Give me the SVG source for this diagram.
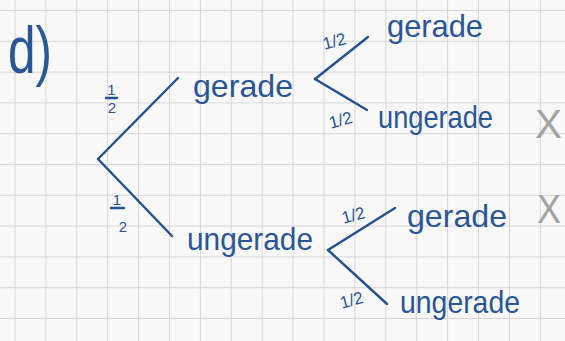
<svg xmlns="http://www.w3.org/2000/svg" width="565" height="341" viewBox="0 0 565 341">
  <defs>
    <pattern id="grid" x="14.5" y="10" width="30.9" height="30.8" patternUnits="userSpaceOnUse">
      <path d="M0 0 V30.8 M0 0 H30.9" fill="none" stroke="#d6d6d6" stroke-width="2"/>
    </pattern>
  </defs>
  <style>
    .ink { fill: #2a5597; font-family: "Liberation Sans", Arial, sans-serif; }
    .word { font-size: 32px; }
    .frac { font-size: 15px; }
    .frac2 { font-size: 17px; }
    .edge { stroke: #24508f; stroke-width: 2.4; stroke-linecap: round; fill: none; }
    .cross { fill: #a3a3a3; font-family: "Liberation Sans", Arial, sans-serif; font-size: 40px; font-weight: 300; }
  </style>
  <rect width="565" height="341" fill="#f8f8f8"/>
  <rect width="565" height="341" fill="url(#grid)"/>

  <g id="label-d">
    <text class="ink" x="8" y="73" font-size="66" textLength="44" lengthAdjust="spacingAndGlyphs">d)</text>
  </g>

  <g id="connectors">
    <line class="edge" x1="98" y1="159" x2="178" y2="78"/>
    <line class="edge" x1="98" y1="159" x2="172" y2="236"/>
    <line class="edge" x1="315" y1="79" x2="368" y2="37"/>
    <line class="edge" x1="315" y1="79" x2="367" y2="110"/>
    <line class="edge" x1="328" y1="250" x2="395" y2="208"/>
    <line class="edge" x1="328" y1="250" x2="387" y2="304"/>
    <!-- fraction bars -->
    <line class="edge" x1="106" y1="98" x2="117" y2="98" stroke-width="1.5"/>
    <line class="edge" x1="111" y1="208" x2="124" y2="208" stroke-width="1.5"/>
  </g>

  <g id="edge-labels">
    <text class="ink frac" x="111.5" y="95" text-anchor="middle">1</text>
    <text class="ink frac" x="112" y="113" text-anchor="middle">2</text>
    <text class="ink frac" x="117" y="205" text-anchor="middle">1</text>
    <text class="ink frac" x="123" y="232" text-anchor="middle">2</text>
    <text class="ink frac2" x="334" y="47" text-anchor="middle" transform="rotate(-15 334 40)">1/2</text>
    <text class="ink frac2" x="340" y="126" text-anchor="middle" transform="rotate(-15 340 118)">1/2</text>
    <text class="ink frac2" x="353" y="221" text-anchor="middle" transform="rotate(-15 353 214)">1/2</text>
    <text class="ink frac2" x="351" y="306" text-anchor="middle" transform="rotate(-15 351 298)">1/2</text>
  </g>

  <g id="node-gerade">
    <text class="ink word" x="193" y="97" textLength="100" lengthAdjust="spacingAndGlyphs">gerade</text>
  </g>
  <g id="node-ungerade">
    <text class="ink word" x="187" y="250" textLength="126" lengthAdjust="spacingAndGlyphs">ungerade</text>
  </g>
  <g id="node-gerade-gerade">
    <text class="ink word" x="387" y="37" font-size="30" textLength="96" lengthAdjust="spacingAndGlyphs">gerade</text>
  </g>
  <g id="node-gerade-ungerade">
    <text class="ink word" x="378" y="128" font-size="30" textLength="115" lengthAdjust="spacingAndGlyphs">ungerade</text>
    <text class="cross" x="535" y="138" textLength="27" lengthAdjust="spacingAndGlyphs">X</text>
  </g>
  <g id="node-ungerade-gerade">
    <text class="ink word" x="407" y="227" textLength="100" lengthAdjust="spacingAndGlyphs">gerade</text>
    <text class="cross" x="537" y="223" font-size="36" textLength="24" lengthAdjust="spacingAndGlyphs">X</text>
  </g>
  <g id="node-ungerade-ungerade">
    <text class="ink word" x="400" y="313" font-size="30" textLength="120" lengthAdjust="spacingAndGlyphs">ungerade</text>
  </g>
</svg>
